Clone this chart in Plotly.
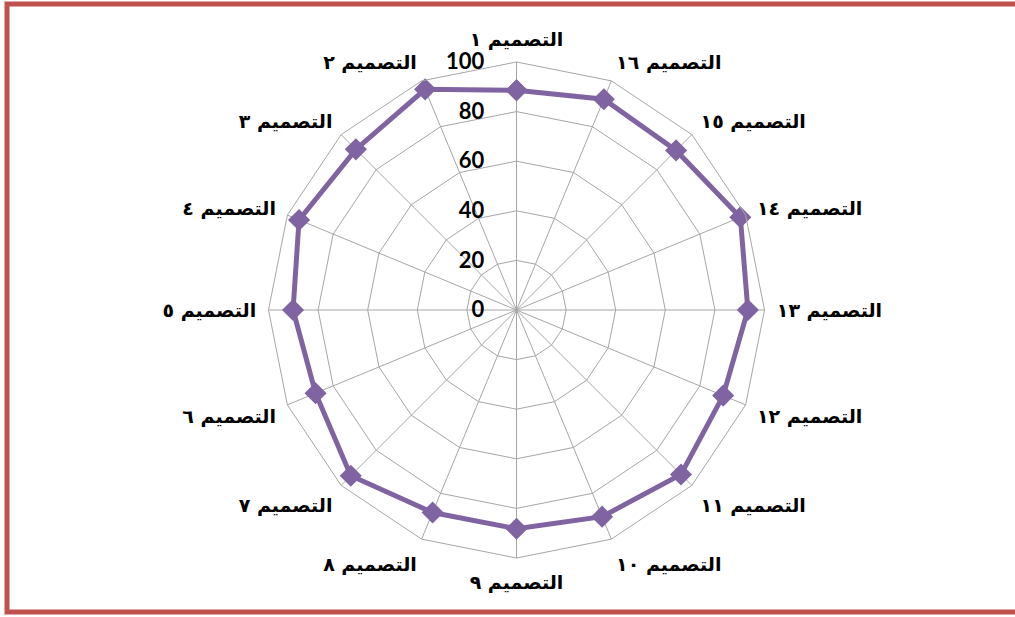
import plotly.graph_objects as go

arabic_digits = ["١", "٢", "٣", "٤", "٥", "٦", "٧", "٨", "٩", "١٠", "١١", "١٢", "١٣", "١٤", "١٥", "١٦"]
categories = ["التصميم " + d for d in arabic_digits]
values = [88.6, 96.3, 91.6, 94.9, 90.1, 87.7, 94.5, 88.4, 88.2, 90.2, 93.8, 90.2, 93.3, 97.7, 91.0, 92.0]
radial_ticks = [0, 20, 40, 60, 80, 100]

W, H = 1015, 617
cx, cy, R = 516.5, 310, 248

fig = go.Figure()
fig.add_trace(go.Scatterpolar(
    r=values + values[:1],
    theta=categories + categories[:1],
    mode="lines+markers",
    line=dict(color="#8064A2", width=5),
    marker=dict(symbol="diamond", size=17, color="#8064A2"),
    showlegend=False,
))

fig.update_layout(
    width=W, height=H,
    margin=dict(l=0, r=0, t=0, b=0),
    paper_bgcolor="white",
    polar=dict(
        bgcolor="white",
        gridshape="linear",
        domain=dict(
            x=[(cx - R) / W, (cx + R) / W],
            y=[(H - cy - R) / H, (H - cy + R) / H],
        ),
        angularaxis=dict(
            direction="counterclockwise",
            rotation=90,
            gridcolor="#A6A6A6",
            gridwidth=1,
            linecolor="#A6A6A6",
            linewidth=1,
            ticks="outside",
            ticklen=8,
            tickcolor="rgba(0,0,0,0)",
            tickfont=dict(family="DejaVu Sans", size=19, color="black", weight="bold"),
        ),
        radialaxis=dict(
            range=[0, 100],
            tickvals=radial_ticks,
            angle=90,
            tickangle=90,
            side="counterclockwise",
            showline=False,
            gridcolor="#A6A6A6",
            gridwidth=1,
            ticks="outside",
            ticklen=24,
            tickcolor="rgba(0,0,0,0)",
            tickfont=dict(family="Lato", size=22, color="black", weight="bold"),
        ),
    ),
    shapes=[dict(
        type="rect", xref="paper", yref="paper",
        x0=7 / W, x1=1.02, y0=1 - 612 / H, y1=1 - 4 / H,
        line=dict(color="#C0504D", width=5),
    )],
)

fig.write_html("out.html", config={"displayModeBar": False},
               post_script="document.body.style.margin='0';")
